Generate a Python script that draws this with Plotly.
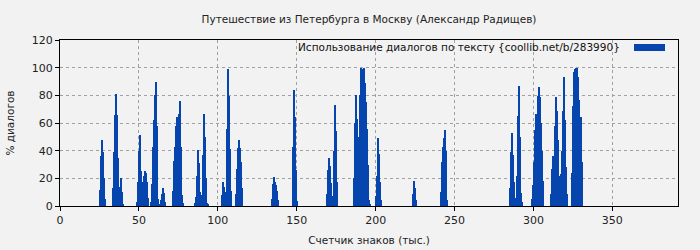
import plotly.graph_objects as go

# --- data (thousands of characters / % dialogue) ---
step_k = 0.633  # width of one sample, in thousands of characters

cluster_start_k = [25.4, 33.7, 48.9, 57.7, 63.4, 71.6, 85.6, 102.6, 111.5, 134.3,
                   147.6, 169.1, 186.0, 200.1, 223.5, 241.3, 284.9, 289.4, 298.8,
                   310.9, 317.2, 324.7]

cluster_values = [
    [11.6, 36, 48, 39, 20, 5],
    [13, 39, 66, 81, 66, 35, 10, 14, 20, 10, 1],
    [3, 17, 40, 51, 25, 11, 17, 22, 25, 24, 17, 6],
    [3, 16, 43, 62, 80, 90, 58, 5],
    [1, 4, 9, 13, 9.5, 3],
    [11, 32.5, 43, 58, 64, 52, 66.5, 76, 43, 8, 2],
    [2, 6.5, 22, 40.5, 31, 10, 6, 8, 37, 66.5, 50, 20, 2, 1],
    [8, 17, 14, 4.5, 10, 56, 99, 79.5, 41, 11],
    [8.7, 27, 42, 48, 42, 32, 13],
    [5, 16, 21, 17, 15, 11, 4.5],
    [42.6, 84, 64, 26, 3.5],
    [8.7, 26, 35, 29, 16.5, 5, 7, 40, 73, 54, 17.5],
    [20, 60, 80, 63, 41, 50, 80, 100, 97, 99, 100, 89, 75, 56, 30, 4, 1],
    [7, 22, 49, 37.5, 17, 4],
    [8.7, 18, 13, 4.5],
    [10, 32, 43, 49, 55, 40, 4],
    [13, 39, 53, 37, 17, 5.5],
    [21.7, 65, 87, 50, 9.5, 3],
    [5, 15, 32, 55, 66.5, 53.5, 79.5, 86, 79, 60, 40, 18],
    [8.5, 27, 36, 20, 58, 79, 69, 48, 22, 4],
    [23, 40, 69, 93, 62, 28, 9],
    [23.6, 72.5, 97, 99, 100, 100, 93, 76.5, 55, 64.5, 32],
]

title_text = "Путешествие из Петербурга в Москву (Александр Радищев)"
legend_text = "Использование диалогов по тексту {coollib.net/b/283990}"
x_title = "Счетчик знаков (тыс.)"
y_title = "% диалогов"

x_range = [0, 391.6]
y_range = [0, 120]

bar_color = "#0645ad"
bg = "#f2f2f2"
font_family = "DejaVu Sans"
fs = 10.5

xs, ys = [], []
for start, vals in zip(cluster_start_k, cluster_values):
    for i, v in enumerate(vals):
        xs.append(start + i * step_k)
        ys.append(v)

fig = go.Figure()
fig.add_trace(go.Bar(x=xs, y=ys, width=step_k, marker=dict(color=bar_color, line=dict(width=0)),
                     showlegend=False, hoverinfo="skip"))

axis_common = dict(showline=True, linecolor="black", linewidth=1, mirror=True,
                   ticks="outside", ticklen=4, tickcolor="black", automargin=False,
                   showgrid=True, gridcolor="#a0a0a0", griddash="dot", gridwidth=1,
                   zeroline=False, tickfont=dict(family=font_family, size=11, color="#222"))

fig.update_layout(
    width=700, height=250,
    margin=dict(l=60, r=22, t=40, b=44),
    paper_bgcolor=bg, plot_bgcolor=bg,
    bargap=0,
    font=dict(family=font_family, size=fs, color="#222"),
    title=dict(text=title_text, x=0.5, xref="paper", y=1 - 19 / 250, yanchor="middle",
               font=dict(family=font_family, size=fs, color="#222")),
    xaxis=dict(range=x_range, dtick=50, tick0=0,
               title=dict(text=x_title, standoff=10, font=dict(family=font_family, size=fs, color="#222")),
               **axis_common),
    yaxis=dict(range=y_range, dtick=20, tick0=0,
               title=dict(text=y_title, standoff=15, font=dict(family=font_family, size=fs, color="#222")),
               **axis_common),
)

fig.add_annotation(text=legend_text, xref="paper", yref="paper", x=(622 - 60) / 618, y=1 - 7 / 166,
                   xanchor="right", yanchor="middle", showarrow=False,
                   font=dict(family=font_family, size=fs, color="#111"))
fig.add_shape(type="rect", xref="paper", yref="paper",
              x0=(634 - 60) / 618, x1=(665 - 60) / 618, y0=1 - 11 / 166, y1=1 - 4 / 166,
              fillcolor=bar_color, line=dict(width=0))

fig.write_html("out.html")
